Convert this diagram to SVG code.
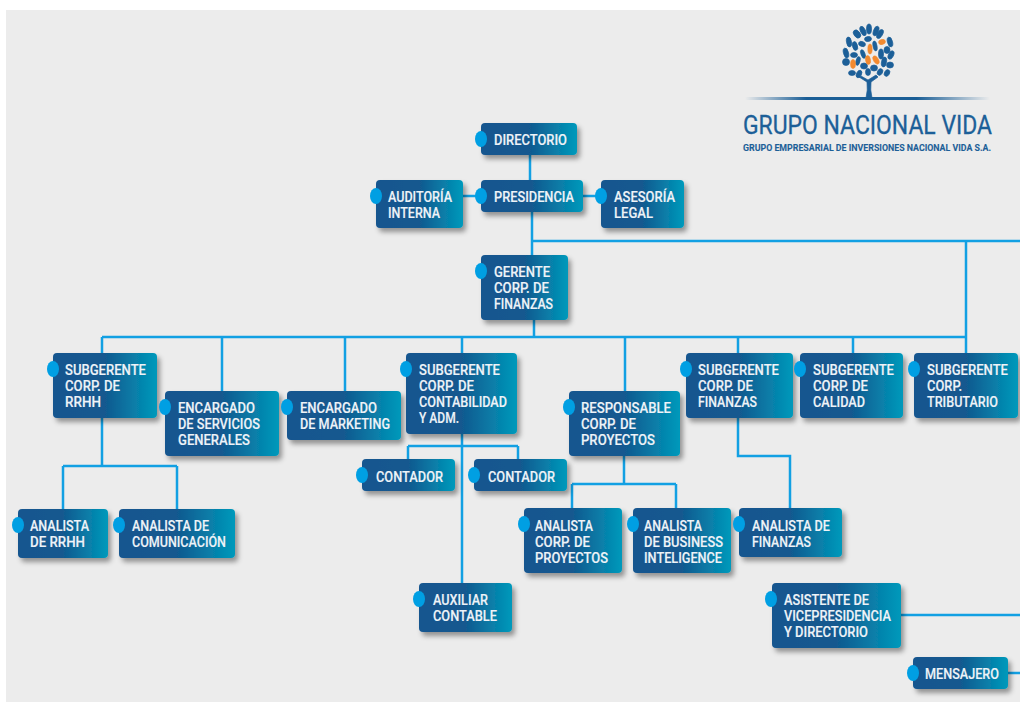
<svg xmlns="http://www.w3.org/2000/svg" width="1020" height="702" viewBox="0 0 1020 702">
<defs>
<linearGradient id="g" x1="0" y1="0" x2="1" y2="0"><stop offset="0" stop-color="#14568f"/><stop offset="0.5" stop-color="#12598f"/><stop offset="1" stop-color="#0099bb"/></linearGradient>
<linearGradient id="ln" x1="0" y1="0" x2="1" y2="0"><stop offset="0" stop-color="#1a5e96" stop-opacity="0"/><stop offset="0.25" stop-color="#1a5e96"/><stop offset="0.7" stop-color="#1a5e96"/><stop offset="1" stop-color="#1a5e96" stop-opacity="0"/></linearGradient>
<filter id="s" x="-15%" y="-20%" width="130%" height="150%"><feDropShadow dx="3" dy="4" stdDeviation="2.5" flood-color="#000" flood-opacity="0.38"/></filter>
</defs>
<style>
.b{fill:url(#g);filter:url(#s)}
.d{fill:#009fe3}
.t{font-family:Roboto,"Liberation Sans",Arial,sans-serif;font-weight:500;font-size:14.5px;fill:#eef3f8;stroke:#eef3f8;stroke-width:.15;transform:translateY(-.3px)}
.c{fill:none;stroke:#12a0e3;stroke-width:2.5}
.l{fill:#1c5f98;stroke:#1c5f98;stroke-width:.7}
.o{fill:#f28a30;stroke:#f28a30;stroke-width:.5}
.h{font-family:Roboto,"Liberation Sans",Arial,sans-serif;fill:#1c5f98;stroke:#1c5f98}
</style>
<rect x="0" y="0" width="1020" height="702" fill="#fff"/>
<rect x="6" y="10" width="1014" height="692" fill="#ececec"/>
<g id="logo">
<g class="l">
<ellipse cx="869" cy="29" rx="2.5" ry="5"/><ellipse cx="863" cy="31" rx="2.5" ry="5" transform="rotate(-25 863 31)"/><ellipse cx="876" cy="31" rx="2.5" ry="5" transform="rotate(20 876 31)"/><ellipse cx="857" cy="34" rx="3" ry="4.5" transform="rotate(-40 857 34)"/><ellipse cx="880" cy="34" rx="2.5" ry="5" transform="rotate(30 880 34)"/>
<ellipse cx="849" cy="42" rx="2.5" ry="5" transform="rotate(-10 849 42)"/><ellipse cx="855" cy="46" rx="2.5" ry="4.5" transform="rotate(-15 855 46)"/><ellipse cx="862" cy="44" rx="3.5" ry="2.5" transform="rotate(20 862 44)"/><ellipse cx="868" cy="39" rx="3.5" ry="2.5" transform="rotate(-10 868 39)"/><ellipse cx="875" cy="46" rx="2" ry="5" transform="rotate(-10 875 46)"/><ellipse cx="890" cy="42" rx="2.5" ry="5" transform="rotate(-15 890 42)"/>
<ellipse cx="846" cy="53" rx="2.5" ry="5" transform="rotate(-15 846 53)"/><ellipse cx="854" cy="55" rx="3.5" ry="2.5"/><ellipse cx="863" cy="54" rx="2" ry="4.5" transform="rotate(-20 863 54)"/><ellipse cx="881" cy="54" rx="2.5" ry="5"/><ellipse cx="887" cy="50" rx="3" ry="3.5"/><ellipse cx="891" cy="55" rx="2.5" ry="4.5" transform="rotate(25 891 55)"/>
<ellipse cx="846" cy="62" rx="3.5" ry="3.5"/><ellipse cx="858" cy="61" rx="2" ry="4.5" transform="rotate(15 858 61)"/><ellipse cx="884" cy="62" rx="2.5" ry="5" transform="rotate(10 884 62)"/><ellipse cx="890" cy="65" rx="3.5" ry="3"/>
<ellipse cx="864" cy="66" rx="3.5" ry="3"/><ellipse cx="874" cy="68" rx="3.5" ry="3"/><ellipse cx="852" cy="73" rx="3.5" ry="2.5"/><ellipse cx="859" cy="74" rx="2.5" ry="4" transform="rotate(25 859 74)"/><ellipse cx="868" cy="72" rx="2.5" ry="3.5"/><ellipse cx="880" cy="72" rx="2.5" ry="3.5" transform="rotate(30 880 72)"/><ellipse cx="887" cy="73" rx="2.5" ry="3.5" transform="rotate(30 887 73)"/>
<path d="M866 98 Q868 90 867 82 L859 77 L861 76 L868 80 L876 75 L878 77 L871 82 Q870 90 872 98Z"/>
</g>
<g class="o">
<ellipse cx="870" cy="49" rx="2.2" ry="5"/><ellipse cx="882" cy="42" rx="3.5" ry="2.5" transform="rotate(-15 882 42)"/><ellipse cx="853" cy="64" rx="2.5" ry="4.5"/><ellipse cx="868" cy="60" rx="2.5" ry="4.5" transform="rotate(-10 868 60)"/><ellipse cx="876" cy="60" rx="2.5" ry="4.5" transform="rotate(-30 876 60)"/>
</g>
<rect x="745" y="97" width="245" height="3" fill="url(#ln)"/>
<text class="h" x="743" y="134" font-size="25" stroke-width=".3" textLength="249" lengthAdjust="spacingAndGlyphs">GRUPO NACIONAL VIDA</text>
<text class="h" x="743" y="151" font-size="9" font-weight="700" stroke-width=".1" textLength="248" lengthAdjust="spacingAndGlyphs">GRUPO EMPRESARIAL DE INVERSIONES NACIONAL VIDA S.A.</text>
</g>
<g id="connectors" class="c">
<path d="M530 155V180M463 196H481M583 196H601M532 212V255M532 241H1020M534 320V337"/>
<path d="M102 337H966M102 337V353M222 337V391M345 337V391M462 337V353M625 337V391M738 337V353M853 337V353M966 241V353"/>
<path d="M102 418V466M63 466H177M63 466V509M177 466V509"/>
<path d="M462 434V583M408 446H518M408 446V459M518 446V459"/>
<path d="M624 456V484M572 484H676M572 484V508M676 484V508"/>
<path d="M738 418V456H790V508"/>
<path d="M901 615H1020M1008 673H1020"/>
</g>
<g id="directorio"><rect class="b" x="481" y="123" width="96" height="32" rx="4"/><ellipse class="d" cx="481" cy="139" rx="6" ry="8"/><text class="t" x="494" y="145" textLength="73" lengthAdjust="spacingAndGlyphs">DIRECTORIO</text></g>
<g id="presidencia"><rect class="b" x="481" y="180" width="102" height="32" rx="4"/><ellipse class="d" cx="481" cy="196" rx="6" ry="8"/><text class="t" x="494" y="202" textLength="80" lengthAdjust="spacingAndGlyphs">PRESIDENCIA</text></g>
<g id="auditoria"><rect class="b" x="376" y="180" width="87" height="48" rx="4"/><ellipse class="d" cx="376" cy="196" rx="6" ry="8"/><text class="t" x="388" y="202" textLength="64" lengthAdjust="spacingAndGlyphs">AUDITORÍA</text><text class="t" x="388" y="218" textLength="52" lengthAdjust="spacingAndGlyphs">INTERNA</text></g>
<g id="asesoria"><rect class="b" x="601" y="180" width="83" height="48" rx="4"/><ellipse class="d" cx="601" cy="196" rx="6" ry="8"/><text class="t" x="614" y="202" textLength="61" lengthAdjust="spacingAndGlyphs">ASESORÍA</text><text class="t" x="614" y="218" textLength="39" lengthAdjust="spacingAndGlyphs">LEGAL</text></g>
<g id="gerente"><rect class="b" x="481" y="255" width="87" height="65" rx="4"/><ellipse class="d" cx="481" cy="271" rx="6" ry="8"/><text class="t" x="494" y="277" textLength="56" lengthAdjust="spacingAndGlyphs">GERENTE</text><text class="t" x="494" y="293" textLength="55" lengthAdjust="spacingAndGlyphs">CORP. DE</text><text class="t" x="494" y="309" textLength="59" lengthAdjust="spacingAndGlyphs">FINANZAS</text></g>
<g id="sub-rrhh"><rect class="b" x="53" y="353" width="104" height="65" rx="4"/><ellipse class="d" cx="53" cy="369" rx="6" ry="8"/><text class="t" x="65" y="375" textLength="81" lengthAdjust="spacingAndGlyphs">SUBGERENTE</text><text class="t" x="65" y="391" textLength="55" lengthAdjust="spacingAndGlyphs">CORP. DE</text><text class="t" x="65" y="407" textLength="36" lengthAdjust="spacingAndGlyphs">RRHH</text></g>
<g id="enc-servicios"><rect class="b" x="165" y="391" width="114" height="65" rx="4"/><ellipse class="d" cx="165" cy="407" rx="6" ry="8"/><text class="t" x="178" y="413" textLength="77" lengthAdjust="spacingAndGlyphs">ENCARGADO</text><text class="t" x="178" y="429" textLength="82" lengthAdjust="spacingAndGlyphs">DE SERVICIOS</text><text class="t" x="178" y="445" textLength="72" lengthAdjust="spacingAndGlyphs">GENERALES</text></g>
<g id="enc-marketing"><rect class="b" x="287" y="391" width="114" height="49" rx="4"/><ellipse class="d" cx="287" cy="407" rx="6" ry="8"/><text class="t" x="300" y="413" textLength="77" lengthAdjust="spacingAndGlyphs">ENCARGADO</text><text class="t" x="300" y="429" textLength="90" lengthAdjust="spacingAndGlyphs">DE MARKETING</text></g>
<g id="sub-contabilidad"><rect class="b" x="406" y="353" width="111" height="81" rx="4"/><ellipse class="d" cx="406" cy="369" rx="6" ry="8"/><text class="t" x="419" y="375" textLength="81" lengthAdjust="spacingAndGlyphs">SUBGERENTE</text><text class="t" x="419" y="391" textLength="55" lengthAdjust="spacingAndGlyphs">CORP. DE</text><text class="t" x="419" y="407" textLength="88" lengthAdjust="spacingAndGlyphs">CONTABILIDAD</text><text class="t" x="419" y="423" textLength="40" lengthAdjust="spacingAndGlyphs">Y ADM.</text></g>
<g id="responsable"><rect class="b" x="569" y="391" width="111" height="65" rx="4"/><ellipse class="d" cx="569" cy="407" rx="6" ry="8"/><text class="t" x="581" y="413" textLength="90" lengthAdjust="spacingAndGlyphs">RESPONSABLE</text><text class="t" x="581" y="429" textLength="55" lengthAdjust="spacingAndGlyphs">CORP. DE</text><text class="t" x="581" y="445" textLength="74" lengthAdjust="spacingAndGlyphs">PROYECTOS</text></g>
<g id="sub-finanzas"><rect class="b" x="686" y="353" width="107" height="65" rx="4"/><ellipse class="d" cx="686" cy="369" rx="6" ry="8"/><text class="t" x="698" y="375" textLength="81" lengthAdjust="spacingAndGlyphs">SUBGERENTE</text><text class="t" x="698" y="391" textLength="55" lengthAdjust="spacingAndGlyphs">CORP. DE</text><text class="t" x="698" y="407" textLength="59" lengthAdjust="spacingAndGlyphs">FINANZAS</text></g>
<g id="sub-calidad"><rect class="b" x="800" y="353" width="103" height="65" rx="4"/><ellipse class="d" cx="800" cy="369" rx="6" ry="8"/><text class="t" x="813" y="375" textLength="81" lengthAdjust="spacingAndGlyphs">SUBGERENTE</text><text class="t" x="813" y="391" textLength="55" lengthAdjust="spacingAndGlyphs">CORP. DE</text><text class="t" x="813" y="407" textLength="52" lengthAdjust="spacingAndGlyphs">CALIDAD</text></g>
<g id="sub-tributario"><rect class="b" x="914" y="353" width="104" height="65" rx="4"/><ellipse class="d" cx="914" cy="369" rx="6" ry="8"/><text class="t" x="927" y="375" textLength="81" lengthAdjust="spacingAndGlyphs">SUBGERENTE</text><text class="t" x="927" y="391" textLength="35" lengthAdjust="spacingAndGlyphs">CORP.</text><text class="t" x="927" y="407" textLength="71" lengthAdjust="spacingAndGlyphs">TRIBUTARIO</text></g>
<g id="contador-1"><rect class="b" x="362" y="459" width="93" height="32" rx="4"/><ellipse class="d" cx="362" cy="475" rx="6" ry="8"/><text class="t" x="376" y="482" textLength="67" lengthAdjust="spacingAndGlyphs">CONTADOR</text></g>
<g id="contador-2"><rect class="b" x="474" y="459" width="93" height="32" rx="4"/><ellipse class="d" cx="474" cy="475" rx="6" ry="8"/><text class="t" x="488" y="482" textLength="67" lengthAdjust="spacingAndGlyphs">CONTADOR</text></g>
<g id="analista-rrhh"><rect class="b" x="18" y="509" width="90" height="49" rx="4"/><ellipse class="d" cx="18" cy="525" rx="6" ry="8"/><text class="t" x="30" y="531" textLength="59" lengthAdjust="spacingAndGlyphs">ANALISTA</text><text class="t" x="30" y="547" textLength="55" lengthAdjust="spacingAndGlyphs">DE RRHH</text></g>
<g id="analista-comunicacion"><rect class="b" x="119" y="509" width="116" height="49" rx="4"/><ellipse class="d" cx="119" cy="525" rx="6" ry="8"/><text class="t" x="132" y="531" textLength="77" lengthAdjust="spacingAndGlyphs">ANALISTA DE</text><text class="t" x="132" y="547" textLength="94" lengthAdjust="spacingAndGlyphs">COMUNICACIÓN</text></g>
<g id="auxiliar"><rect class="b" x="419" y="583" width="93" height="49" rx="4"/><ellipse class="d" cx="419" cy="599" rx="6" ry="8"/><text class="t" x="433" y="605" textLength="55" lengthAdjust="spacingAndGlyphs">AUXILIAR</text><text class="t" x="433" y="621" textLength="64" lengthAdjust="spacingAndGlyphs">CONTABLE</text></g>
<g id="analista-proyectos"><rect class="b" x="524" y="508" width="98" height="65" rx="4"/><ellipse class="d" cx="524" cy="524" rx="6" ry="8"/><text class="t" x="535" y="531" textLength="58" lengthAdjust="spacingAndGlyphs">ANALISTA</text><text class="t" x="535" y="547" textLength="55" lengthAdjust="spacingAndGlyphs">CORP. DE</text><text class="t" x="535" y="563" textLength="73" lengthAdjust="spacingAndGlyphs">PROYECTOS</text></g>
<g id="analista-business"><rect class="b" x="633" y="508" width="98" height="65" rx="4"/><ellipse class="d" cx="633" cy="524" rx="6" ry="8"/><text class="t" x="644" y="531" textLength="58" lengthAdjust="spacingAndGlyphs">ANALISTA</text><text class="t" x="644" y="547" textLength="79" lengthAdjust="spacingAndGlyphs">DE BUSINESS</text><text class="t" x="644" y="563" textLength="78" lengthAdjust="spacingAndGlyphs">INTELIGENCE</text></g>
<g id="analista-finanzas"><rect class="b" x="739" y="508" width="103" height="49" rx="4"/><ellipse class="d" cx="739" cy="524" rx="6" ry="8"/><text class="t" x="752" y="531" textLength="78" lengthAdjust="spacingAndGlyphs">ANALISTA DE</text><text class="t" x="752" y="547" textLength="59" lengthAdjust="spacingAndGlyphs">FINANZAS</text></g>
<g id="asistente"><rect class="b" x="772" y="583" width="129" height="65" rx="4"/><ellipse class="d" cx="771" cy="599" rx="6" ry="8"/><text class="t" x="784" y="605" textLength="85" lengthAdjust="spacingAndGlyphs">ASISTENTE DE</text><text class="t" x="784" y="621" textLength="107" lengthAdjust="spacingAndGlyphs">VICEPRESIDENCIA</text><text class="t" x="784" y="637" textLength="84" lengthAdjust="spacingAndGlyphs">Y DIRECTORIO</text></g>
<g id="mensajero"><rect class="b" x="913" y="657" width="95" height="32" rx="4"/><ellipse class="d" cx="913" cy="673" rx="6" ry="8"/><text class="t" x="925" y="679" textLength="74" lengthAdjust="spacingAndGlyphs">MENSAJERO</text></g>
</svg>
